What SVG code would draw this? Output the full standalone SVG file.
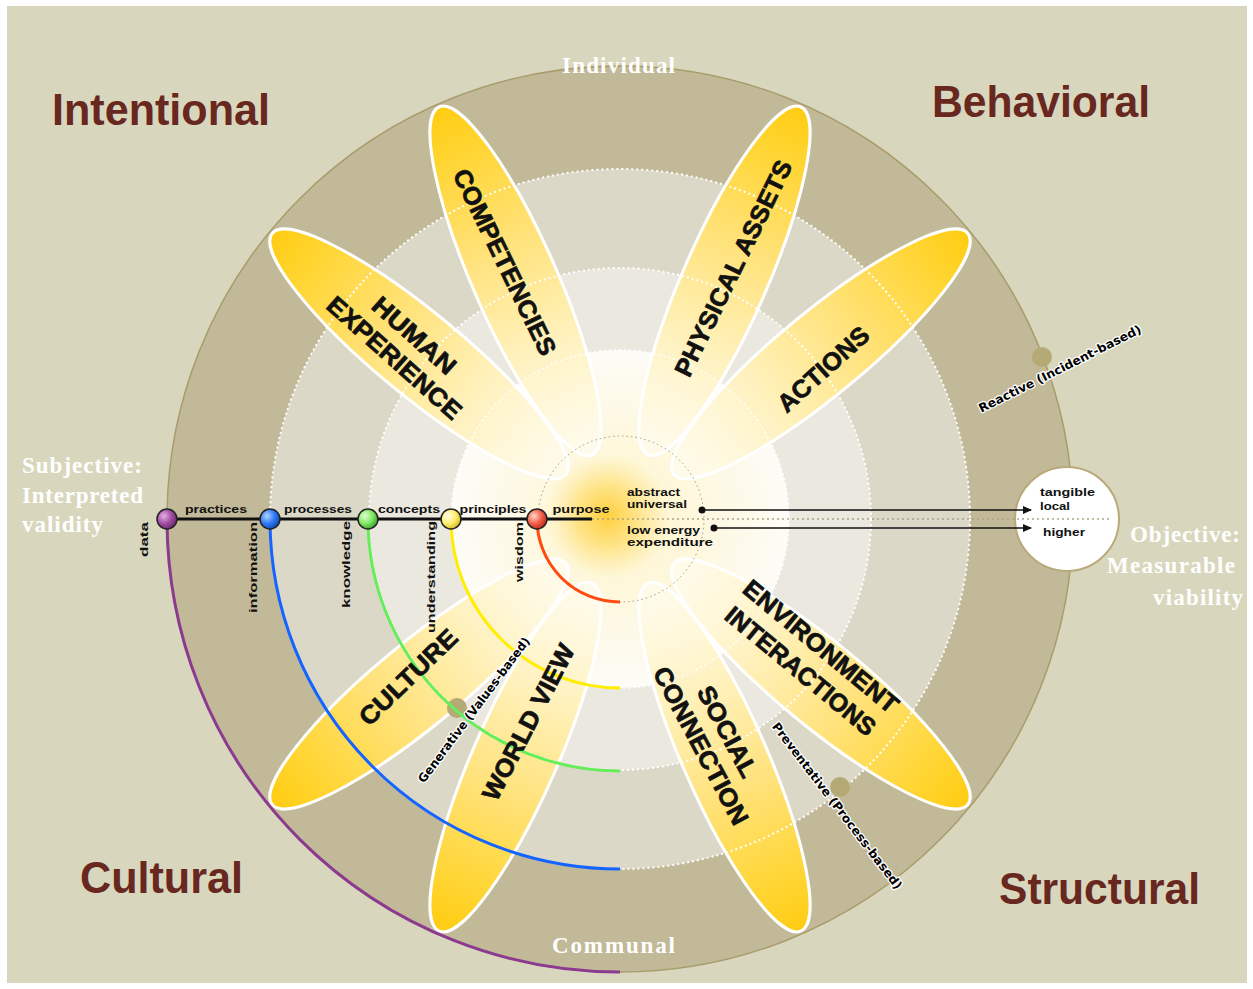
<svg xmlns="http://www.w3.org/2000/svg" width="1253" height="989" viewBox="0 0 1253 989">
  <defs>
    <style>
      .quad{font-family:"Liberation Sans",Arial,sans-serif;font-weight:bold;font-size:44px;fill:#68281f}
      .pole{font-family:"Liberation Serif","Times New Roman",serif;font-weight:bold;font-size:23px;fill:#ffffff}
      .petal{fill:url(#petalFill);stroke:#ffffff;stroke-width:3}
      .petal-text{font-family:"Liberation Sans",Arial,sans-serif;font-weight:bold;font-size:25px;fill:#111;stroke:#111;stroke-width:0.7px;text-anchor:middle}
      .stage{font-family:"Liberation Sans",Arial,sans-serif;font-weight:bold;font-size:11px;fill:#111}
      .mode{font-family:"DejaVu Sans",Verdana,sans-serif;font-weight:bold;font-size:12px;fill:#000;text-anchor:middle;stroke:#ffffff;stroke-width:2.5px;paint-order:stroke;stroke-linejoin:round}
      .ring-line{fill:none;stroke:#ffffff;stroke-width:2;stroke-dasharray:2 3}
      .arc{fill:none;stroke-width:3;stroke-linecap:butt}
      .node{stroke:#222;stroke-width:1.5}
      .marker-dot{fill:#b5aa76}
      .arrow{stroke:#111;stroke-width:1.5;fill:none;marker-end:url(#arrowHead)}
    </style>
    <linearGradient id="petalFill" gradientUnits="userSpaceOnUse" x1="70" y1="0" x2="450" y2="0">
      <stop offset="0" stop-color="#fffdf2" stop-opacity="0.7"/>
      <stop offset="0.3" stop-color="#fff2c0"/>
      <stop offset="0.6" stop-color="#ffe27a"/>
      <stop offset="0.85" stop-color="#ffd636"/>
      <stop offset="1" stop-color="#ffcc12"/>
    </linearGradient>
    <radialGradient id="coreFill" cx="0.5" cy="0.5" r="0.5">
      <stop offset="0" stop-color="#fff4c8"/>
      <stop offset="1" stop-color="#fdfcf7"/>
    </radialGradient>
    <radialGradient id="glow" cx="0.5" cy="0.5" r="0.5">
      <stop offset="0" stop-color="#ffcf3a"/>
      <stop offset="0.5" stop-color="#ffdc6a" stop-opacity="0.7"/>
      <stop offset="1" stop-color="#ffe690" stop-opacity="0"/>
    </radialGradient>
    <radialGradient id="nPurple" cx="0.35" cy="0.35" r="0.7">
      <stop offset="0" stop-color="#e6b0e6"/><stop offset="0.55" stop-color="#a24ca2"/><stop offset="1" stop-color="#6a2a6a"/>
    </radialGradient>
    <radialGradient id="nBlue" cx="0.35" cy="0.35" r="0.7">
      <stop offset="0" stop-color="#b0d4ff"/><stop offset="0.55" stop-color="#2f7af5"/><stop offset="1" stop-color="#1448b0"/>
    </radialGradient>
    <radialGradient id="nGreen" cx="0.35" cy="0.35" r="0.7">
      <stop offset="0" stop-color="#e0ffd0"/><stop offset="0.55" stop-color="#80e862"/><stop offset="1" stop-color="#3aa030"/>
    </radialGradient>
    <radialGradient id="nYellow" cx="0.35" cy="0.35" r="0.7">
      <stop offset="0" stop-color="#ffffe6"/><stop offset="0.55" stop-color="#ffee70"/><stop offset="1" stop-color="#d4bc20"/>
    </radialGradient>
    <radialGradient id="nRed" cx="0.35" cy="0.35" r="0.7">
      <stop offset="0" stop-color="#ffd6c8"/><stop offset="0.55" stop-color="#f2604a"/><stop offset="1" stop-color="#b82a1a"/>
    </radialGradient>
    <marker id="arrowHead" markerWidth="9" markerHeight="8" refX="8" refY="4" orient="auto" markerUnits="userSpaceOnUse">
      <path d="M0,0 L9,4 L0,8 z" fill="#111"/>
    </marker>
    <ellipse id="petalShape" cx="260" cy="0" rx="190" ry="42"/>
  </defs>

  <!-- page -->
  <rect width="1253" height="989" fill="#ffffff"/>
  <rect x="7" y="6" width="1240" height="977" fill="#d8d7bd"/>

  <!-- concentric bands -->
  <g id="rings">
    <circle cx="620" cy="519" r="453" fill="#c2b998" stroke="#a99c6c" stroke-width="1.5"/>
    <circle cx="620" cy="519" r="350" fill="#dcd8c8"/>
    <circle cx="620" cy="519" r="251" fill="#eae8df"/>
    <circle cx="620" cy="519" r="169" fill="url(#coreFill)"/>
  </g>

  <!-- petals -->
  <g id="petals">
    <g id="petal-human-experience" transform="translate(620,519) rotate(-140.6)"><use href="#petalShape" class="petal"/></g>
    <g id="petal-competencies" transform="translate(620,519) rotate(-113.7)"><use href="#petalShape" class="petal"/></g>
    <g id="petal-physical-assets" transform="translate(620,519) rotate(-66.3)"><use href="#petalShape" class="petal"/></g>
    <g id="petal-actions" transform="translate(620,519) rotate(-39.4)"><use href="#petalShape" class="petal"/></g>
    <g id="petal-environment-interactions" transform="translate(620,519) rotate(39.4)"><use href="#petalShape" class="petal"/></g>
    <g id="petal-social-connection" transform="translate(620,519) rotate(66.3)"><use href="#petalShape" class="petal"/></g>
    <g id="petal-world-view" transform="translate(620,519) rotate(113.7)"><use href="#petalShape" class="petal"/></g>
    <g id="petal-culture" transform="translate(620,519) rotate(140.6)"><use href="#petalShape" class="petal"/></g>
  </g>

  <!-- band borders and core -->
  <g id="band-borders">
    <circle cx="620" cy="519" r="350" class="ring-line"/>
    <circle cx="620" cy="519" r="251" class="ring-line"/>
    <circle cx="620" cy="519" r="169" class="ring-line" stroke-opacity="0.8"/>
    <circle cx="607" cy="516" r="62" fill="url(#glow)"/>
    <circle cx="621" cy="519" r="83" fill="none" stroke="#9a9a88" stroke-width="1" stroke-dasharray="1.5 3"/>
  </g>

  <!-- measurement markers on the bands -->
  <g id="markers">
    <circle cx="1042" cy="357" r="10" class="marker-dot"/>
    <circle cx="840" cy="787" r="10" class="marker-dot"/>
    <circle cx="457" cy="708" r="10" class="marker-dot"/>
  </g>

  <!-- right-hand outcome circle -->
  <g id="node-outcome">
    <circle cx="1067" cy="519" r="52" fill="#ffffff" stroke="#b9a97a" stroke-width="2"/>
    <text class="stage" x="1040" y="496" textLength="55" lengthAdjust="spacingAndGlyphs">tangible</text>
    <text class="stage" x="1040" y="510" textLength="30" lengthAdjust="spacingAndGlyphs">local</text>
    <text class="stage" x="1043" y="536" textLength="42" lengthAdjust="spacingAndGlyphs">higher</text>
  </g>

  <!-- connectors -->
  <g id="connectors">
    <path class="arc" stroke="#8b3a8f" d="M167,519 A453,453 0 0 0 620,972"/>
    <path class="arc" stroke="#1464ff" d="M270,519 A350,350 0 0 0 620,869"/>
    <path class="arc" stroke="#66ee5a" d="M368,519 A252,252 0 0 0 620,771"/>
    <path class="arc" stroke="#ffee00" d="M451,519 A169,169 0 0 0 620,688"/>
    <path class="arc" stroke="#ff4a10" d="M537,519 A83,83 0 0 0 620,602"/>
    <line x1="592" y1="519" x2="1112" y2="519" stroke="#aaa488" stroke-width="1.5" stroke-dasharray="2 3"/>
    <line x1="167" y1="519" x2="592" y2="519" stroke="#111" stroke-width="3"/>
    <circle cx="702" cy="510" r="3.5" fill="#111"/>
    <line class="arrow" x1="702" y1="510" x2="1031" y2="510"/>
    <circle cx="714" cy="528" r="3.5" fill="#111"/>
    <line class="arrow" x1="714" y1="528" x2="1031" y2="528"/>
  </g>

  <!-- stage nodes on the axis -->
  <g id="node-data"><circle class="node" cx="167" cy="519" r="10" fill="url(#nPurple)"/>
    <text class="stage" transform="translate(148,522) rotate(-90)" text-anchor="end" textLength="35" lengthAdjust="spacingAndGlyphs">data</text></g>
  <g id="node-information"><circle class="node" cx="270" cy="519" r="10" fill="url(#nBlue)"/>
    <text class="stage" x="216" y="513" text-anchor="middle" textLength="62" lengthAdjust="spacingAndGlyphs">practices</text>
    <text class="stage" transform="translate(257,522) rotate(-90)" text-anchor="end" textLength="91" lengthAdjust="spacingAndGlyphs">information</text></g>
  <g id="node-knowledge"><circle class="node" cx="368" cy="519" r="10" fill="url(#nGreen)"/>
    <text class="stage" x="318" y="513" text-anchor="middle" textLength="68" lengthAdjust="spacingAndGlyphs">processes</text>
    <text class="stage" transform="translate(350,521) rotate(-90)" text-anchor="end" textLength="87" lengthAdjust="spacingAndGlyphs">knowledge</text></g>
  <g id="node-understanding"><circle class="node" cx="451" cy="519" r="10" fill="url(#nYellow)"/>
    <text class="stage" x="409" y="513" text-anchor="middle" textLength="62" lengthAdjust="spacingAndGlyphs">concepts</text>
    <text class="stage" transform="translate(435,521) rotate(-90)" text-anchor="end" textLength="112" lengthAdjust="spacingAndGlyphs">understanding</text></g>
  <g id="node-wisdom"><circle class="node" cx="537" cy="519" r="10" fill="url(#nRed)"/>
    <text class="stage" x="493" y="513" text-anchor="middle" textLength="67" lengthAdjust="spacingAndGlyphs">principles</text>
    <text class="stage" transform="translate(523,522) rotate(-90)" text-anchor="end" textLength="60" lengthAdjust="spacingAndGlyphs">wisdom</text></g>
  <g id="node-purpose">
    <text class="stage" x="581" y="513" text-anchor="middle" textLength="57" lengthAdjust="spacingAndGlyphs">purpose</text>
    <text class="stage" x="627" y="496" textLength="53" lengthAdjust="spacingAndGlyphs">abstract</text>
    <text class="stage" x="627" y="508" textLength="60" lengthAdjust="spacingAndGlyphs">universal</text>
    <text class="stage" x="627" y="534" textLength="73" lengthAdjust="spacingAndGlyphs">low energy</text>
    <text class="stage" x="627" y="546" textLength="86" lengthAdjust="spacingAndGlyphs">expenditure</text>
  </g>

  <!-- petal labels -->
  <g id="petal-labels">
    <text class="petal-text" transform="translate(505,262) rotate(64)" y="9" textLength="204" lengthAdjust="spacingAndGlyphs">COMPETENCIES</text>
    <g transform="translate(404.5,346.5) rotate(41.7)">
      <text class="petal-text" y="-6" textLength="103" lengthAdjust="spacingAndGlyphs">HUMAN</text>
      <text class="petal-text" y="24" textLength="171" lengthAdjust="spacingAndGlyphs">EXPERIENCE</text>
    </g>
    <text class="petal-text" transform="translate(733,268) rotate(-64)" y="9" textLength="237" lengthAdjust="spacingAndGlyphs">PHYSICAL ASSETS</text>
    <text class="petal-text" transform="translate(823,369) rotate(-42)" y="9" textLength="114" lengthAdjust="spacingAndGlyphs">ACTIONS</text>
    <g transform="translate(811,658.5) rotate(39.6)">
      <text class="petal-text" y="-7" textLength="193" lengthAdjust="spacingAndGlyphs">ENVIRONMENT</text>
      <text class="petal-text" y="25" textLength="187" lengthAdjust="spacingAndGlyphs">INTERACTIONS</text>
    </g>
    <g transform="translate(714.5,738.5) rotate(62)">
      <text class="petal-text" y="-6" textLength="100" lengthAdjust="spacingAndGlyphs">SOCIAL</text>
      <text class="petal-text" y="24" textLength="175" lengthAdjust="spacingAndGlyphs">CONNECTION</text>
    </g>
    <text class="petal-text" transform="translate(528,722) rotate(-62.7)" y="9" textLength="172" lengthAdjust="spacingAndGlyphs">WORLD VIEW</text>
    <text class="petal-text" transform="translate(408,677) rotate(-44)" y="9" textLength="126" lengthAdjust="spacingAndGlyphs">CULTURE</text>
  </g>

  <!-- mode labels -->
  <g id="mode-labels">
    <text class="mode" transform="translate(1060,369) rotate(-26.6)" y="4" textLength="180" lengthAdjust="spacingAndGlyphs">Reactive (Incident-based)</text>
    <text class="mode" transform="translate(474,710) rotate(-53.3)" y="4" textLength="178" lengthAdjust="spacingAndGlyphs">Generative (Values-based)</text>
    <text class="mode" transform="translate(837,806) rotate(52.7)" y="4" textLength="206" lengthAdjust="spacingAndGlyphs">Preventative (Process-based)</text>
  </g>

  <!-- quadrant titles -->
  <g id="quadrants">
    <text class="quad" x="52" y="125" textLength="218" lengthAdjust="spacingAndGlyphs">Intentional</text>
    <text class="quad" x="932" y="117" textLength="218" lengthAdjust="spacingAndGlyphs">Behavioral</text>
    <text class="quad" x="80" y="893" textLength="163" lengthAdjust="spacingAndGlyphs">Cultural</text>
    <text class="quad" x="999" y="904" textLength="201" lengthAdjust="spacingAndGlyphs">Structural</text>
  </g>

  <!-- axis poles -->
  <g id="poles">
    <text class="pole" x="562" y="73" textLength="113" lengthAdjust="spacing">Individual</text>
    <text class="pole" x="552" y="953" textLength="123" lengthAdjust="spacing">Communal</text>
    <text class="pole" x="22" y="473" textLength="120" lengthAdjust="spacing">Subjective:</text>
    <text class="pole" x="22" y="503" textLength="121" lengthAdjust="spacing">Interpreted</text>
    <text class="pole" x="22" y="532" textLength="81" lengthAdjust="spacing">validity</text>
    <text class="pole" x="1130" y="542" textLength="110" lengthAdjust="spacing">Objective:</text>
    <text class="pole" x="1107" y="573" textLength="128" lengthAdjust="spacing">Measurable</text>
    <text class="pole" x="1153" y="605" textLength="90" lengthAdjust="spacing">viability</text>
  </g>
</svg>
